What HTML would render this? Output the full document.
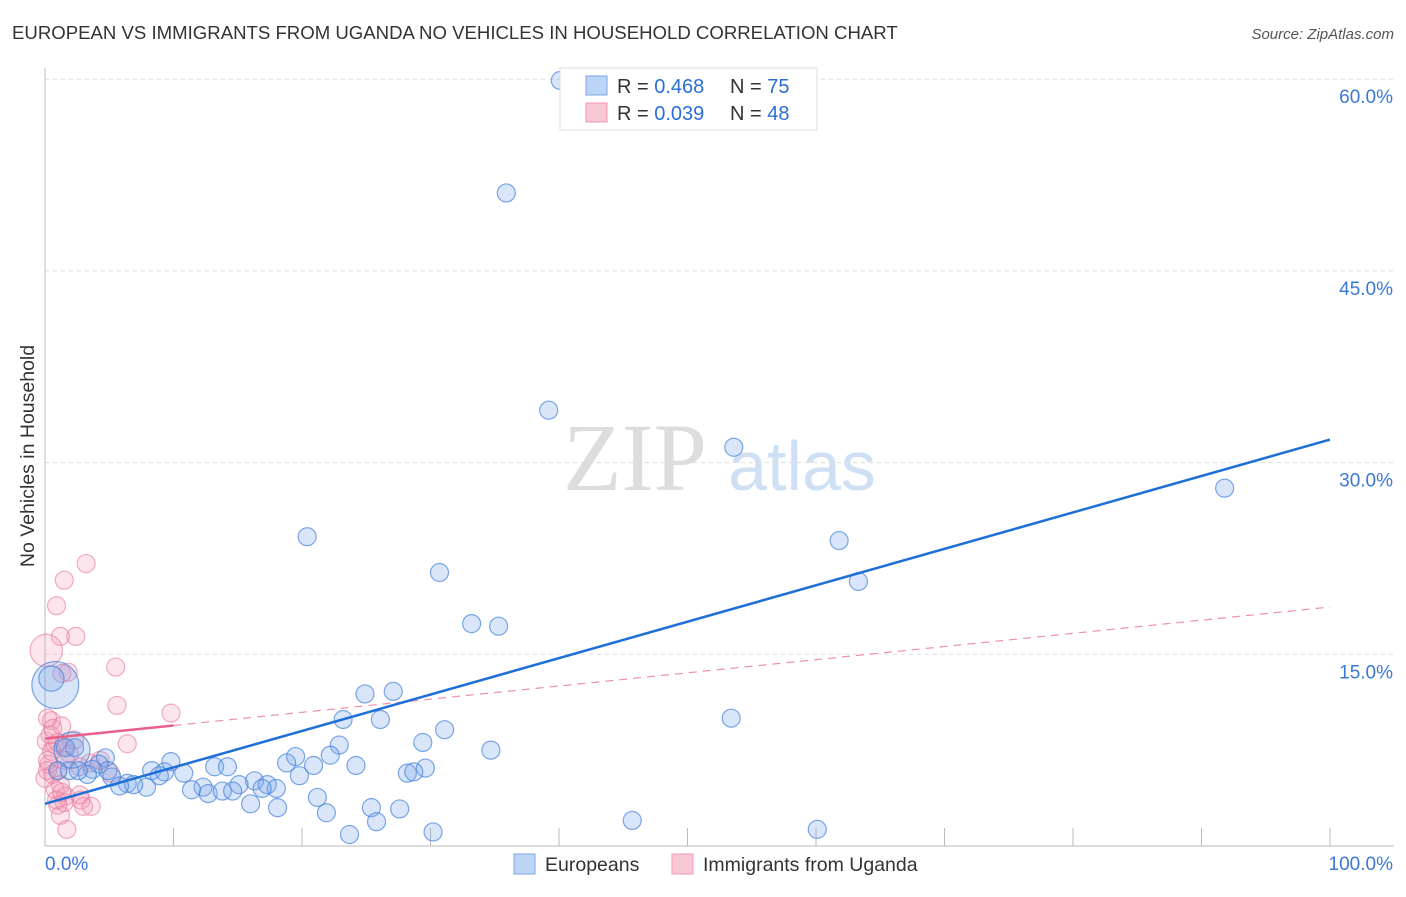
<!DOCTYPE html>
<html><head><meta charset="utf-8"><style>
body{margin:0;background:#fff;font-family:"Liberation Sans",sans-serif}
</style></head><body>
<svg width="1406" height="892" xmlns="http://www.w3.org/2000/svg">
<text x="12" y="39" font-size="18.6" fill="#333">EUROPEAN VS IMMIGRANTS FROM UGANDA NO VEHICLES IN HOUSEHOLD CORRELATION CHART</text>
<text x="1394" y="39" font-size="15" fill="#555" font-style="italic" text-anchor="end">Source: ZipAtlas.com</text>
<text x="34" y="456" font-size="19.5" fill="#333" text-anchor="middle" transform="rotate(-90 34 456)">No Vehicles in Household</text>
<g><text x="635" y="490" font-size="96" font-family="Liberation Serif,serif" fill="#ddd" text-anchor="middle">ZIP</text><text x="802" y="490" font-size="70" fill="#cfe0f5" text-anchor="middle">atlas</text></g>
<g id="grid"></g><g id="axes"></g><g id="marks"></g>
<g>
<rect x="560" y="68" width="257" height="62" fill="#fff" stroke="#ddd"/>
<rect x="586" y="76" width="21" height="19" fill="#bcd4f5" stroke="#7aa7e8"/>
<rect x="586" y="103" width="21" height="19" fill="#f9c6d4" stroke="#ee9ab3"/>
<text x="617" y="93" font-size="20" fill="#333">R = <tspan fill="#2a6fd6">0.468</tspan></text>
<text x="730" y="93" font-size="20" fill="#333">N = <tspan fill="#2a6fd6">75</tspan></text>
<text x="617" y="120" font-size="20" fill="#333">R = <tspan fill="#2a6fd6">0.039</tspan></text>
<text x="730" y="120" font-size="20" fill="#333">N = <tspan fill="#2a6fd6">48</tspan></text>
</g>
<g>
<rect x="514" y="854" width="21" height="20" fill="#bcd4f5" stroke="#7aa7e8"/>
<text x="545" y="871" font-size="19.5" fill="#333">Europeans</text>
<rect x="672" y="854" width="21" height="20" fill="#f9c6d4" stroke="#ee9ab3"/>
<text x="703" y="871" font-size="19.5" fill="#333">Immigrants from Uganda</text>
</g>
</svg>
<script>
const yTicks=[15,30,45,60];
const xTickLabels=["0.0%","100.0%"];
const euX=[40.1,35.9,39.2,53.6,91.8,20.4,61.8,63.3,30.7,33.2,35.3,24.9,27.1,23.2,26.1,53.4,31.1,34.7,22.9,29.4,22.2,19.5,18.8,20.9,24.2,28.2,29.6,28.7,19.8,9.8,8.3,10.8,9.3,13.2,14.2,16.3,17.3,18.0,15.1,12.3,11.4,12.7,13.8,14.6,16.9,5.2,6.4,7.9,6.9,4.7,4.2,3.7,3.3,1.9,2.6,1.0,1.6,2.3,0.8,0.5,21.2,16.0,18.1,21.9,25.4,27.6,25.8,23.7,30.2,45.7,60.1,4.9,5.8,8.9,2.1];
const euY=[59.9,51.1,34.1,31.2,28.0,24.2,23.9,20.7,21.4,17.4,17.2,11.9,12.1,9.9,9.9,10.0,9.1,7.5,7.9,8.1,7.1,7.0,6.5,6.3,6.3,5.7,6.1,5.8,5.5,6.6,5.9,5.7,5.8,6.2,6.2,5.1,4.8,4.5,4.8,4.6,4.4,4.1,4.3,4.3,4.5,5.4,4.9,4.6,4.8,6.9,6.4,6.0,5.6,5.9,5.9,5.9,7.7,7.7,12.6,13.1,3.8,3.3,3.0,2.6,3.0,2.9,1.9,0.9,1.1,2.0,1.3,5.9,4.7,5.5,7.5];
const euW=[1,1,1,1,1,1,1,1,1,1,1,1,1,1,1,1,1,1,1,1,1,1,1,1,1,1,1,1,1,1,1,1,1,1,1,1,1,1,1,1,1,1,1,1,1,1,1,1,1,1,1,1,1,1,1,1,1,1,2.6,1.4,1,1,1,1,1,1,1,1,1,1,1,1,1,1,2];
const ugX=[3.2,1.5,0.9,2.4,1.2,0.1,5.5,1.8,1.3,5.6,9.8,6.4,0.5,1.3,0.2,0.1,0.8,0.5,1.5,1.9,0.2,1.0,0.6,0.3,3.5,2.7,5.1,1.2,0.8,1.6,2.8,1.5,3.0,3.6,1.0,1.2,1.7,0,0.4,1.0,2.3,4.3,0.2,1.6,0.9,1.3,2.7,0.6];
const ugY=[22.1,20.8,18.8,16.4,16.4,15.3,14.0,13.6,13.5,11.0,10.4,8.0,9.8,9.4,10.0,8.2,7.9,7.4,7.7,7.2,6.7,5.9,5.6,6.4,6.5,6.2,5.7,4.8,4.4,3.9,3.6,3.4,3.1,3.1,3.2,2.4,1.3,5.3,8.7,8.1,8.3,6.7,5.9,6.7,3.6,4.2,4.0,9.2];
const ugW=[1,1,1,1,1,1.8,1,1,1,1,1,1,1,1,1,1,1,1,1,1,1,1,1,1,1,1,1,1,1,1,1,1,1,1,1,1,1,1,1,1,1,1,1,1,1,1,1,1,1];
const euTrend=[3.3,31.8];
const ugTrend=[8.4,18.7];
const ugSolidEnd=10;

const X0=45,X1=1330,Y0=846,PY=12.78;
const sx=v=>X0+(X1-X0)*v/100;
const sy=v=>Y0-v*PY;
const NS="http://www.w3.org/2000/svg";
function mk(t,a,p){const e=document.createElementNS(NS,t);for(const k in a)e.setAttribute(k,a[k]);p.appendChild(e);return e;}
const grid=document.getElementById('grid'),axes=document.getElementById('axes'),marks=document.getElementById('marks');
yTicks.forEach(v=>{
 const l=mk('line',{x1:X0,x2:1394,y1:sy(v),y2:sy(v),stroke:'#ddd','stroke-dasharray':'4,4'},grid);
 
 
 const t=mk('text',{x:1393,y:sy(v)+24,'font-size':19,fill:'#3b78d8','text-anchor':'end'},axes);
 t.textContent=v.toFixed(1)+'%';
 
 
});
let a=mk('line',{x1:X0,x2:X0,y1:68,y2:Y0,stroke:'#bbb'},axes);


a=mk('line',{x1:X0,x2:1394,y1:Y0,y2:Y0,stroke:'#bbb'},axes);


for(let i=1;i<=10;i++){const tk=mk('line',{x1:sx(i*10),x2:sx(i*10),y1:828,y2:Y0,stroke:'#bbb'},axes);
 
 }
[[0,'start',45],[1,'end',1393]].forEach(([i,anc,x])=>{const t=mk('text',{x:x,y:870,'font-size':19,fill:'#3b78d8','text-anchor':anc},axes);t.textContent=xTickLabels[i];
 
 });
ugX.forEach((x,i)=>{const c=mk('circle',{cx:sx(x),cy:sy(ugY[i]),r:9*ugW[i],fill:'rgba(245,150,180,0.25)',stroke:'rgba(230,120,155,0.6)','stroke-width':1.2},marks);
 
 });
euX.forEach((x,i)=>{const c=mk('circle',{cx:sx(x),cy:sy(euY[i]),r:9*euW[i],fill:'rgba(120,165,235,0.28)',stroke:'rgba(70,130,220,0.7)','stroke-width':1.2},marks);
 
 });
const ugAt=x=>ugTrend[0]+(ugTrend[1]-ugTrend[0])*x/100;
let l=mk('line',{x1:sx(ugSolidEnd),y1:sy(ugAt(ugSolidEnd)),x2:sx(100),y2:sy(ugTrend[1]),stroke:'#ee8fac','stroke-width':1.2,'stroke-dasharray':'8,6'},marks);


l=mk('line',{x1:sx(0),y1:sy(ugTrend[0]),x2:sx(ugSolidEnd),y2:sy(ugAt(ugSolidEnd)),stroke:'#e8608a','stroke-width':2.5},marks);


l=mk('line',{x1:sx(0),y1:sy(euTrend[0]),x2:sx(100),y2:sy(euTrend[1]),stroke:'#1f6fd8','stroke-width':2.5},marks);


</script>
</body></html>
